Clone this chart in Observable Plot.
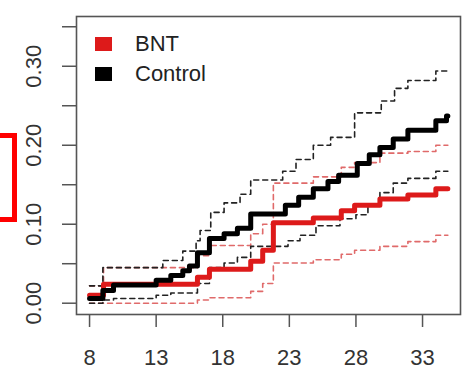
<!DOCTYPE html>
<html>
<head>
<meta charset="utf-8">
<script src="https://cdn.jsdelivr.net/npm/d3@7"></script>
<script src="https://cdn.jsdelivr.net/npm/@observablehq/plot@0.6"></script>
<style>
  html, body { margin: 0; padding: 0; background: #fff; }
  #wrap { position: relative; width: 462px; height: 375px; overflow: hidden; font-family: "Liberation Sans", Arial, sans-serif; }
  #legend { position: absolute; left: 95px; top: 29px; color: #222; font-size: 22px; line-height: 30px; }
  #legend .row { display: flex; align-items: center; height: 30px; }
  #legend .sw { width: 17px; height: 14px; margin-right: 23px; }
  #highlight { position: absolute; left: -20px; top: 133px; width: 27px; height: 79px; border: 5px solid #f00; }
</style>
</head>
<body>
<div id="wrap">
  <div id="chart"></div>
  <div id="legend"></div>
  <div id="highlight"></div>
</div>
<script>
// Cumulative incidence by day since the first dose, with pointwise confidence bands
const seriesNames = ["BNT", "Control"];
const seriesColors = ["#dd1a1a", "#000000"];
const bandColors = ["#e06a6a", "#222222"];
const followUpEnd = 34.9;

// BNT arm: event days and cumulative incidence
const bntTime  = [8, 9.05, 16.1, 17.0, 20.1, 21.0, 21.8, 24.8, 26.9, 27.9, 29.8, 31.9, 34.0];
const bntRisk  = [0.010, 0.024, 0.033, 0.043, 0.053, 0.067, 0.102, 0.108, 0.117, 0.124, 0.132, 0.137, 0.145];
const bntUpperTime = [8, 9.05, 16.1, 17.0, 20.1, 21.0, 21.8, 24.8, 26.9, 27.9, 29.8, 31.9, 34.0];
const bntUpper     = [0.022, 0.045, 0.060, 0.073, 0.088, 0.100, 0.152, 0.160, 0.172, 0.178, 0.190, 0.192, 0.200];
const bntLowerTime = [8, 16.1, 17.0, 20.1, 21.0, 21.8, 24.8, 26.9, 27.9, 29.8, 31.9, 34.0];
const bntLower     = [0.000, 0.004, 0.007, 0.015, 0.025, 0.051, 0.055, 0.062, 0.067, 0.072, 0.078, 0.086];

// Control arm
const ctrlTime = [8, 9.0, 9.8, 13.0, 14.1, 15.0, 15.5, 16.1, 17.0, 18.1, 19.1, 20.1, 22.7, 23.7, 24.8, 25.9, 26.7, 28.1, 29.0, 29.8, 30.8, 31.9, 34.0, 34.8];
const ctrlRisk = [0.006, 0.016, 0.023, 0.029, 0.035, 0.041, 0.047, 0.064, 0.082, 0.088, 0.095, 0.113, 0.124, 0.134, 0.145, 0.154, 0.162, 0.177, 0.188, 0.197, 0.208, 0.219, 0.231, 0.237];
const ctrlUpperTime = [8, 9.0, 13.5, 15.0, 16.0, 16.3, 17.1, 18.1, 19.3, 20.1, 22.5, 23.5, 24.8, 26.1, 27.9, 29.9, 30.9, 31.9, 34.0];
const ctrlUpper     = [0.022, 0.045, 0.054, 0.066, 0.079, 0.092, 0.115, 0.127, 0.138, 0.156, 0.167, 0.182, 0.200, 0.210, 0.241, 0.256, 0.272, 0.282, 0.294];
const ctrlLowerTime = [8, 9.0, 9.8, 13.0, 14.1, 16.1, 17.0, 18.1, 19.1, 20.1, 22.9, 23.8, 25.0, 26.8, 28.0, 28.9, 29.8, 30.8, 31.9, 34.0];
const ctrlLower     = [0.000, 0.004, 0.006, 0.010, 0.013, 0.025, 0.045, 0.051, 0.058, 0.072, 0.079, 0.086, 0.098, 0.107, 0.112, 0.125, 0.140, 0.152, 0.158, 0.167];

// Axis ticks
const xTicks = [8, 13, 18, 23, 28, 33];
const yTicks = [0, 0.05, 0.10, 0.15, 0.20, 0.25, 0.30, 0.35];
const yLabels = [0, 0.10, 0.20, 0.30];

// Turn event times into a step path that runs to the end of follow-up
function steps(times, values) {
  const pts = times.map((t, i) => ({t, v: values[i]}));
  pts.push({t: followUpEnd, v: values[values.length - 1]});
  return pts;
}

const bands = [
  {pts: steps(bntUpperTime, bntUpper), color: bandColors[0]},
  {pts: steps(bntLowerTime, bntLower), color: bandColors[0]},
  {pts: steps(ctrlUpperTime, ctrlUpper), color: bandColors[1]},
  {pts: steps(ctrlLowerTime, ctrlLower), color: bandColors[1]}
];

const chart = Plot.plot({
  width: 462,
  height: 375,
  marginLeft: 76,
  marginTop: 16,
  marginRight: 2,
  marginBottom: 61,
  x: {domain: [7.02, 35.85], axis: null, label: null},
  y: {domain: [-0.0143, 0.363], axis: null, label: null},
  style: {fontFamily: "'Liberation Sans', Arial, sans-serif", fontSize: "22px", background: "#fff", color: "#333"},
  marks: [
    ...bands.map(b => Plot.line(b.pts, {
      x: "t", y: "v", curve: "step-after",
      stroke: b.color, strokeWidth: 1.6, strokeDasharray: "5,4"
    })),
    Plot.line(steps(bntTime, bntRisk), {x: "t", y: "v", curve: "step-after", stroke: seriesColors[0], strokeWidth: 5}),
    Plot.line(steps(ctrlTime, ctrlRisk), {x: "t", y: "v", curve: "step-after", stroke: seriesColors[1], strokeWidth: 5}),
    Plot.frame({stroke: "#555", strokeWidth: 1.6}),
    Plot.axisX({ticks: xTicks, tickSize: 13, text: null, label: null, stroke: "#555", strokeWidth: 1.5}),
    Plot.axisY({ticks: yTicks, tickSize: 14, text: null, label: null, stroke: "#555", strokeWidth: 1.5}),
    Plot.text(xTicks, {x: d => d, frameAnchor: "bottom", dy: 43, text: d => String(d), textAnchor: "middle", lineAnchor: "middle", fill: "#333", fontSize: 22}),
    Plot.text(yLabels, {y: d => d, frameAnchor: "left", dx: -43, rotate: -90, text: d => d.toFixed(2), textAnchor: "middle", lineAnchor: "middle", fill: "#333", fontSize: 22})
  ]
});
document.getElementById("chart").appendChild(chart);

// Legend
const legend = document.getElementById("legend");
seriesNames.forEach((name, i) => {
  const row = document.createElement("div");
  row.className = "row";
  const sw = document.createElement("span");
  sw.className = "sw";
  sw.style.background = seriesColors[i];
  const label = document.createElement("span");
  label.textContent = name;
  row.appendChild(sw);
  row.appendChild(label);
  legend.appendChild(row);
});
</script>
</body>
</html>
